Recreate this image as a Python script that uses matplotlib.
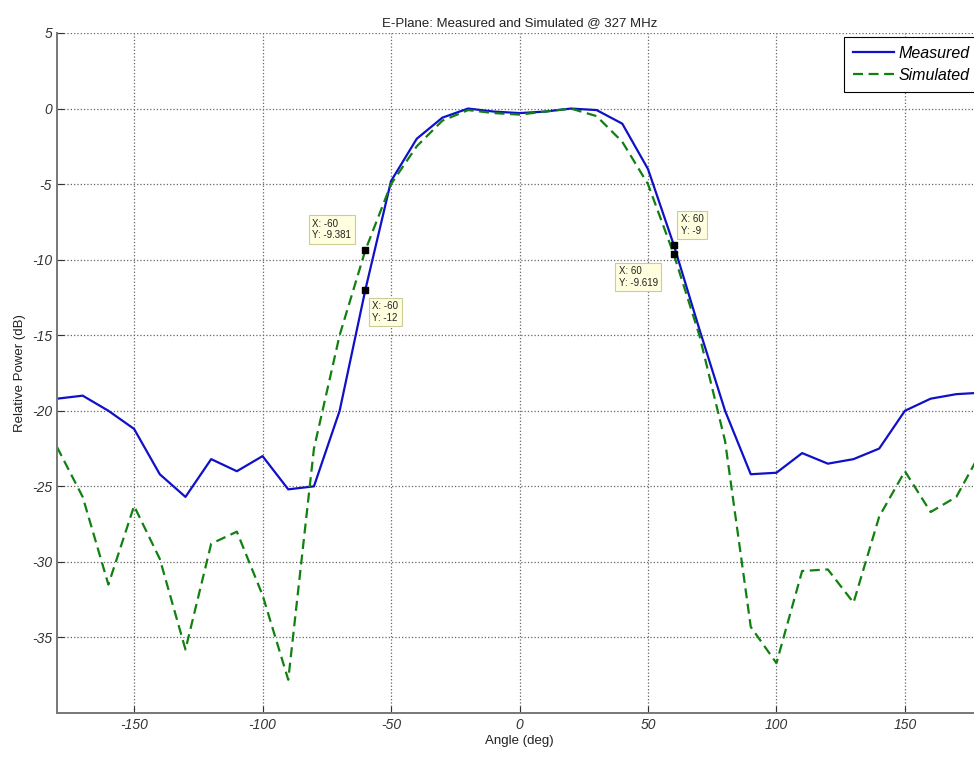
import matplotlib
matplotlib.use("Agg")
import matplotlib.pyplot as plt
import numpy as np

angles = list(range(-180, 181, 10))
measured = [-19.2, -19.0, -20.0, -21.2, -24.2, -25.7, -23.2, -24.0, -23.0, -25.2,
            -25.0, -20.0, -12.0, -4.8, -2.0, -0.6, 0.0, -0.2, -0.3, -0.2,
            0.0, -0.1, -1.0, -4.0, -9.0, -14.6, -20.0, -24.2, -24.1, -22.8,
            -23.5, -23.2, -22.5, -20.0, -19.2, -18.9, -18.8]
simulated = [-22.4, -25.7, -31.5, -26.3, -29.8, -35.8, -28.8, -28.0, -32.2, -37.8,
             -22.5, -15.0, -9.381, -5.0, -2.5, -0.8, -0.1, -0.3, -0.4, -0.2,
             0.0, -0.5, -2.2, -5.0, -9.619, -15.0, -22.0, -34.3, -36.7, -30.6,
             -30.5, -32.7, -27.0, -24.0, -26.7, -25.7, -22.6]
xticks = [-150, -100, -50, 0, 50, 100, 150]
yticks = [5, 0, -5, -10, -15, -20, -25, -30, -35]
tips = [(-60, -9.381), (-60, -12), (60, -9), (60, -9.619)]
tip_labels = ["X: -60\nY: -9.381", "X: -60\nY: -12", "X: 60\nY: -9", "X: 60\nY: -9.619"]

plt.rcParams['font.family'] = ['Liberation Sans', 'DejaVu Sans']

fig = plt.figure(figsize=(9.74, 7.58), dpi=100)
ax = fig.add_axes([57/974, 1-713/758, (982-57)/974, (713-33)/758])

ax.plot(angles, measured, color='#1010c8', lw=1.6, label='Measured')
ax.plot(angles, simulated, color='#108010', lw=1.6, ls=(0, (4.5, 2.5)), label='Simulated')

ax.set_xlim(-180, 180)
ax.set_ylim(-40, 5)
ax.set_xticks(xticks)
ax.set_yticks(yticks)
ax.set_xticklabels([str(t) for t in xticks], fontstyle='italic')
ax.set_yticklabels([str(t) for t in yticks], fontstyle='italic')
ax.tick_params(direction='in', labelsize=10, colors='#333333', length=5)
ax.grid(True, ls=':', color='#666666', lw=0.9)
for s in ['top', 'right']:
    ax.spines[s].set_visible(False)
for s in ['left', 'bottom']:
    ax.spines[s].set_color('#777777')
    ax.spines[s].set_linewidth(1.4)

ax.set_title('E-Plane: Measured and Simulated @ 327 MHz', fontsize=9.5, color='#222222', pad=5)
ax.set_xlabel('Angle (deg)', fontsize=9.5, color='#222222', labelpad=2)
ax.set_ylabel('Relative Power (dB)', fontsize=9.5, color='#222222', labelpad=4)

leg = ax.legend(loc='upper right', prop={'style': 'italic', 'size': 11.5},
                fancybox=False, edgecolor='black', framealpha=1,
                borderaxespad=0.25, handlelength=2.6, labelspacing=0.45,
                borderpad=0.55, handletextpad=0.25)
leg.get_frame().set_linewidth(0.8)

offsets = [(-53, 10), (7, -33), (7, 9), (-55, -34)]
for (x, y), lab, off in zip(tips, tip_labels, offsets):
    ax.plot([x], [y], marker='s', color='black', ms=5, zorder=5)
    ax.annotate(lab, (x, y), xytext=off, textcoords='offset pixels',
                fontsize=7, color='#222222', ha='left', va='bottom',
                bbox=dict(boxstyle='square,pad=0.35', fc='#ffffe0', ec='#cccc99', lw=0.8),
                zorder=6)

fig.savefig('out.png', dpi=100)
